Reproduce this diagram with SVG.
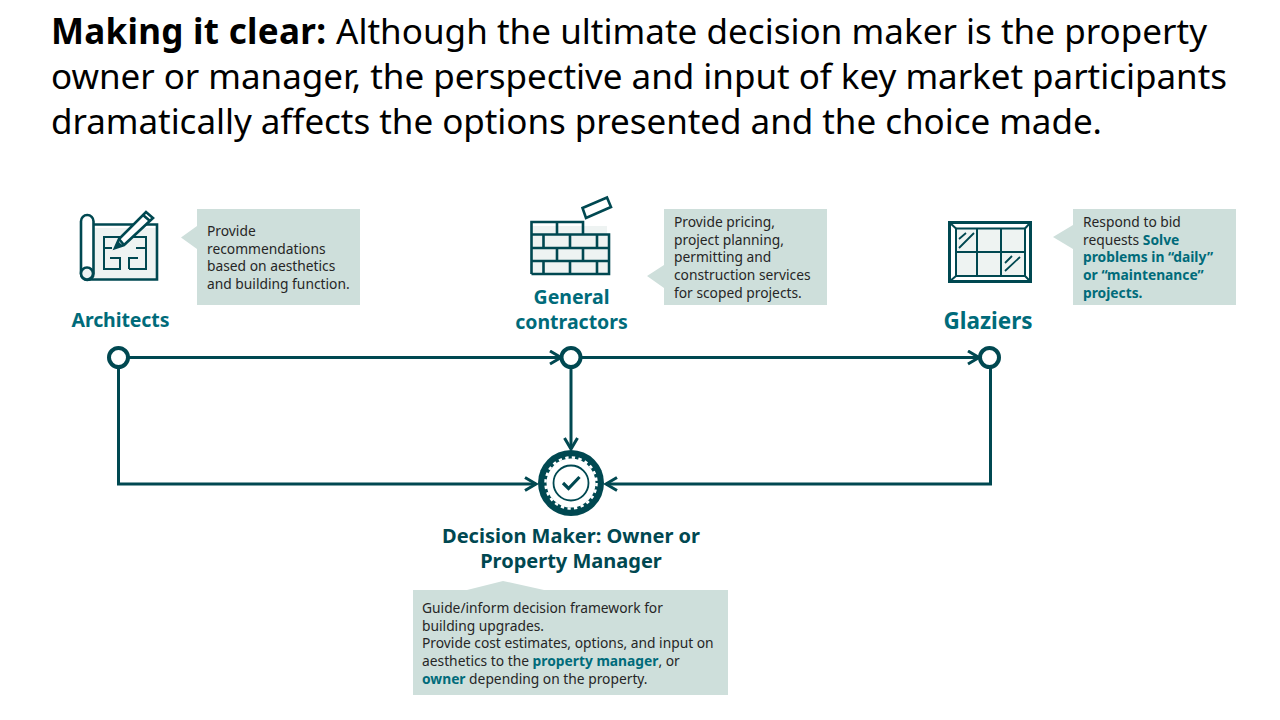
<svg xmlns="http://www.w3.org/2000/svg" width="1280" height="720" viewBox="0 0 1280 720">
<style>
text{font-family:"Noto Sans","Open Sans","Liberation Sans",sans-serif}
.t{font-size:35px;fill:#000}
.b{font-weight:700}
.n{font-size:13.8px;fill:#262626}
.h{fill:#006b7a;font-weight:700}
.l{font-size:19.5px;fill:#006b7a;font-weight:700;text-anchor:middle}
.d{font-size:20px;fill:#004851;font-weight:700;text-anchor:middle}
.box{fill:#cedfdb}
.c{fill:none;stroke:#004851;stroke-width:3}
.ic{fill:none;stroke:#004851;stroke-width:2.6}
.ia{fill:#eef3f2}
.dot{fill:#fff;stroke:#004851;stroke-width:4}
</style>
<defs><marker id="a" markerUnits="userSpaceOnUse" markerWidth="16" markerHeight="16" refX="13" refY="8" orient="auto"><path d="M2 1.500L13 8L2 14.500" fill="none" stroke="#004851" stroke-width="3"/></marker></defs>
<g id="title">
<text class="t b" x="51" y="44" textLength="275" lengthAdjust="spacing">Making it clear:</text>
<text class="t" x="336" y="44" textLength="871" lengthAdjust="spacing">Although the ultimate decision maker is the property</text>
<text class="t" x="51" y="89" textLength="1176" lengthAdjust="spacing">owner or manager, the perspective and input of key market participants</text>
<text class="t" x="51" y="134" textLength="1051" lengthAdjust="spacing">dramatically affects the options presented and the choice made.</text>
</g>
<g id="connectors">
<path class="c" d="M129 357.500H561" marker-end="url(#a)"/>
<path class="c" d="M581 357.500H979" marker-end="url(#a)"/>
<path class="c" d="M571 369V449" marker-end="url(#a)"/>
<path class="c" d="M118.500 369V484H536" marker-end="url(#a)"/>
<path class="c" d="M990.500 369V484H606" marker-end="url(#a)"/>
</g>
<g id="architects">
<path class="ia" d="M94 228H157V279H87V270L94 268Z"/>
<path class="ic" d="M94 224.500H157V279.500H87"/>
<rect class="ic" x="81" y="215" width="12.500" height="65" rx="6.200"/>
<circle cx="87" cy="273.500" r="6" fill="#eef3f2" stroke="#004851" stroke-width="2.600"/>
<path class="ic" style="stroke-width:2" d="M121 237H104V269H121M120 269V258H110M104 248H112M129 237H146V269H129M129 269V258H138M136 248H146"/>
<path d="M115 248L119 239L146 212L153 218L124 245Z" fill="#fff" stroke="#004851" stroke-width="2.600"/>
<path class="ic" d="M119 239L124 245M143 215L150 221"/>
<path d="M115 248L118 241L122 245Z" fill="#004851"/>
<path class="box" d="M197 209H360V305H197V249L181 237.500L197 226Z"/>
<text class="n"><tspan x="207" y="236">Provide</tspan><tspan x="207" y="254">recommendations</tspan><tspan x="207" y="271">based on aesthetics</tspan><tspan x="207" y="289">and building function.</tspan></text>
<text class="l" x="120.500" y="327" textLength="98" lengthAdjust="spacing">Architects</text>
<circle class="dot" cx="118.500" cy="357.500" r="9.500"/>
</g>
<g id="general-contractors">
<rect class="ia" x="531" y="226" width="76" height="49"/>
<path class="ic" d="M531.500 274V222H583V234.500M531.500 234.500H609V274H531.500M531.500 248H609M531.500 261H609M557 222V234.500M543.500 234.500V248M570 234.500V248M597 234.500V248M557 248V261M583 248V261M543.500 261V274M570 261V274M597 261V274"/>
<path class="ic" d="M582.500 208L607 197.500L611 207L586 218Z"/>
<path class="box" d="M664 209H827V305H664V288L647 276L664 265Z"/>
<text class="n"><tspan x="674" y="227">Provide pricing,</tspan><tspan x="674" y="245">project planning,</tspan><tspan x="674" y="262">permitting and</tspan><tspan x="674" y="280">construction services</tspan><tspan x="674" y="298">for scoped projects.</tspan></text>
<text class="l"><tspan x="571.500" y="304">General</tspan><tspan x="571.500" y="329">contractors</tspan></text>
<circle class="dot" cx="571" cy="357.500" r="9.500"/>
</g>
<g id="glaziers">
<rect class="ia" x="955" y="228" width="70" height="49"/>
<rect x="949.500" y="222.500" width="81" height="59" fill="none" stroke="#004851" stroke-width="3"/>
<rect class="ic" x="956" y="228.500" width="69" height="47.500" style="stroke-width:2"/>
<path class="ic" style="stroke-width:2" d="M949.500 222.500L956 228.500M1030.500 222.500L1025 228.500M949.500 281.500L956 276M1030.500 281.500L1025 276M977 228.500V276M1001 228.500V276M956 252H1025"/>
<path d="M959 239L966 233M959 248L974 233M1005 263L1012 256M1005 271L1020 257" fill="none" stroke="#004851" stroke-width="1.800"/>
<path class="box" d="M1073 209H1236V305H1073V249L1053 237L1073 225Z"/>
<text class="n"><tspan x="1083" y="227">Respond to bid</tspan><tspan x="1083" y="245">requests </tspan><tspan class="h">Solve</tspan><tspan class="h" x="1083" y="262">problems in “daily”</tspan><tspan class="h" x="1083" y="280">or “maintenance”</tspan><tspan class="h" x="1083" y="298">projects.</tspan></text>
<text class="l" x="988" y="329" style="font-size:22.500px">Glaziers</text>
<circle class="dot" cx="989.500" cy="357.500" r="9.500"/>
</g>
<g id="decision-maker">
<circle cx="571" cy="483" r="33" fill="#004851"/>
<circle cx="571" cy="483" r="24.500" fill="#fff"/>
<circle cx="571" cy="483" r="25.500" fill="none" stroke="#fff" stroke-width="2.500" stroke-dasharray="3.340 3.340"/>
<circle cx="571" cy="483" r="17.500" fill="#fff" stroke="#004851" stroke-width="1.800"/>
<path d="M563 483L568.500 488.500L579.500 477" fill="none" stroke="#004851" stroke-width="3.200"/>
<text class="d"><tspan x="571" y="543">Decision Maker: Owner or</tspan><tspan x="571" y="568">Property Manager</tspan></text>
<path class="box" d="M413 590H467L503 581L544 590H728V695H413Z"/>
<text class="n"><tspan x="422" y="613">Guide/inform decision framework for</tspan><tspan x="422" y="631">building upgrades.</tspan><tspan x="422" y="648">Provide cost estimates, options, and input on</tspan><tspan x="422" y="666">aesthetics to the </tspan><tspan class="h">property manager</tspan><tspan>, or</tspan><tspan class="h" x="422" y="684">owner</tspan><tspan> depending on the property.</tspan></text>
</g>
</svg>
